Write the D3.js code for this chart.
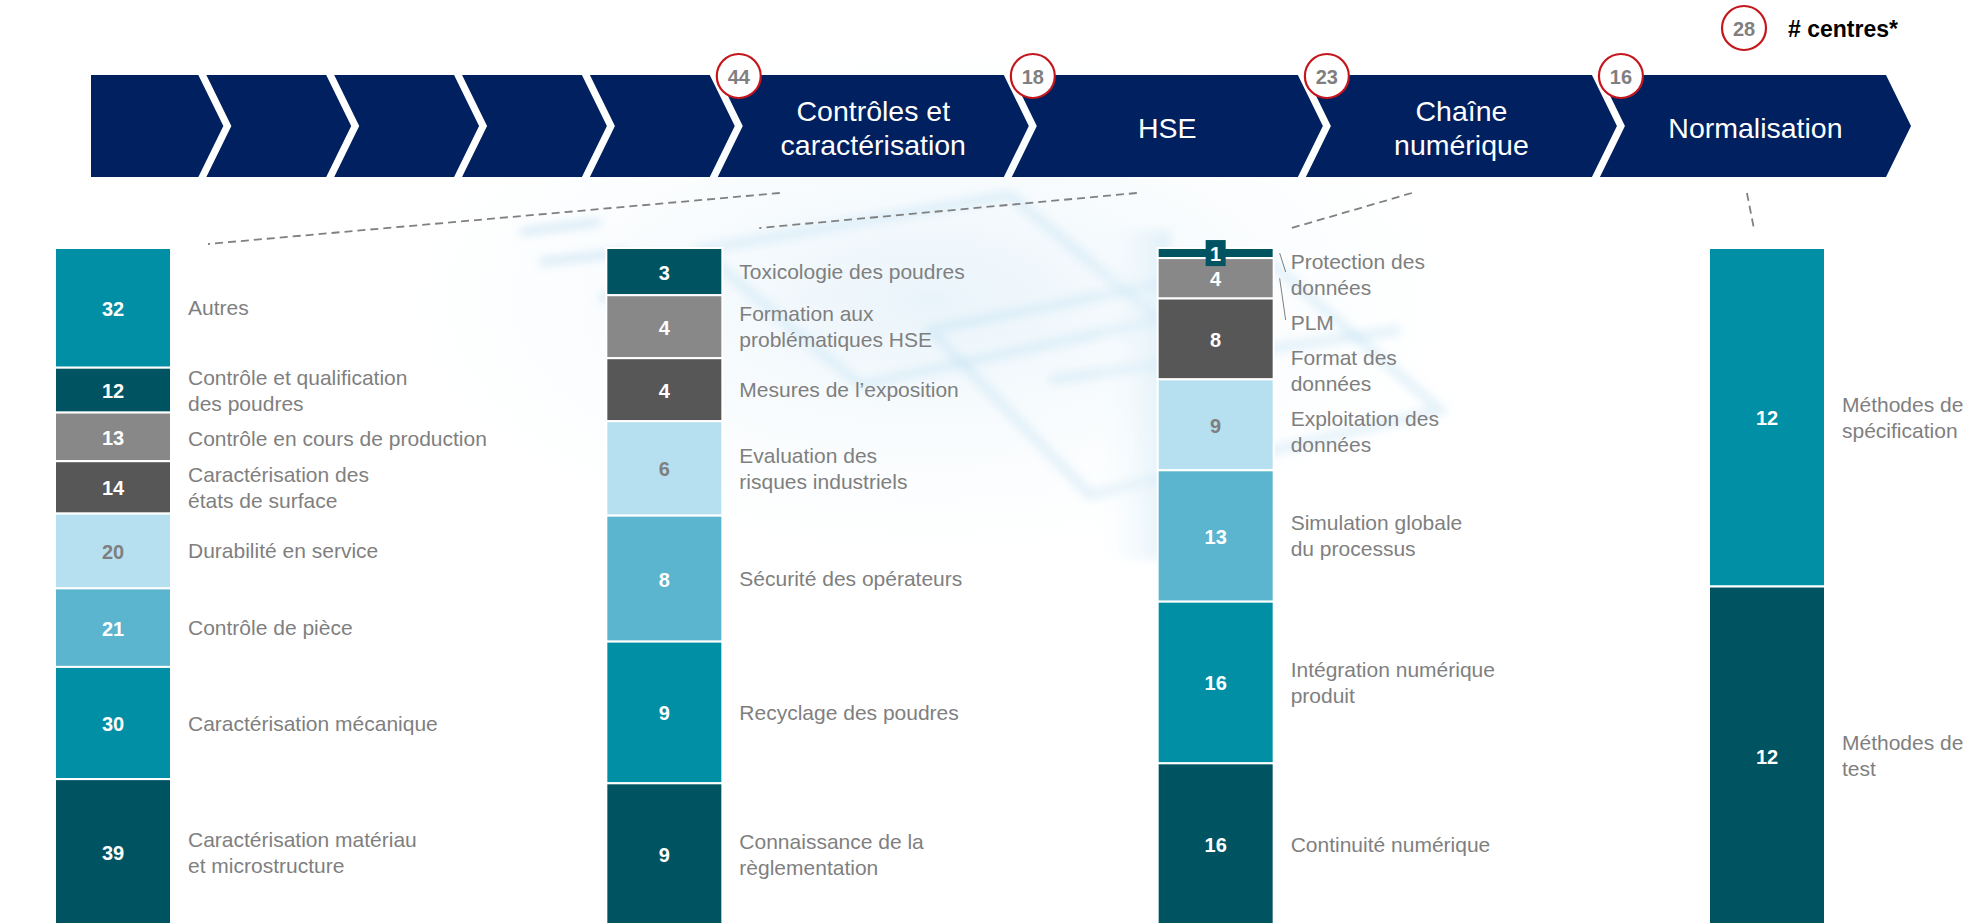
<!DOCTYPE html>
<html><head><meta charset="utf-8">
<script src="https://cdn.jsdelivr.net/npm/d3@7"></script>
<style>html,body{margin:0;padding:0;background:#fff;overflow:hidden}svg{display:block}</style>
</head><body>
<svg id="c" width="1981" height="923"></svg>
<script>
// ---------------- DATA ----------------
const stageNames = ["", "", "", "", "", "Contrôles et\ncaractérisation", "HSE", "Chaîne\nnumérique", "Normalisation"];
const stageCounts = [null, null, null, null, null, 44, 18, 23, 16];
const legendCount = 28;
const legendLabel = "# centres*";

const barCategories = ["Contrôles et caractérisation", "HSE", "Chaîne numérique", "Normalisation"];

const controleLabels = ["Autres", "Contrôle et qualification\ndes poudres", "Contrôle en cours de production",
  "Caractérisation des\nétats de surface", "Durabilité en service", "Contrôle de pièce",
  "Caractérisation mécanique", "Caractérisation matériau\net microstructure"];
const controleValues = [32, 12, 13, 14, 20, 21, 30, 39];

const hseLabels = ["Toxicologie des poudres", "Formation aux\nproblématiques HSE", "Mesures de l’exposition",
  "Evaluation des\nrisques industriels", "Sécurité des opérateurs", "Recyclage des poudres",
  "Connaissance de la\nrèglementation"];
const hseValues = [3, 4, 4, 6, 8, 9, 9];

const chaineLabels = ["Protection des\ndonnées", "PLM", "Format des\ndonnées", "Exploitation des\ndonnées",
  "Simulation globale\ndu processus", "Intégration numérique\nproduit", "Continuité numérique"];
const chaineValues = [1, 4, 8, 9, 13, 16, 16];

const normLabels = ["Méthodes de\nspécification", "Méthodes de\ntest"];
const normValues = [12, 12];

// ---------------- STYLE / LAYOUT ----------------
const W = 1981, H = 923;
const navy = "#002060";
const grayText = "#7f7f7f";
// colours assigned from the bottom of each stack upward
const palette = ["#005461", "#008FA5", "#5BB5CE", "#B6E0EF", "#575757", "#888888", "#005461", "#008FA5"];
const lightFill = "#B6E0EF";
const font = "'Liberation Sans', Arial, Helvetica, sans-serif";

const svg = d3.select("#c");
const defs = svg.append("defs");

// ---------- faint background decoration ----------
const blur = defs.append("filter").attr("id", "blur").attr("x", "-20%").attr("y", "-20%").attr("width", "140%").attr("height", "140%");
blur.append("feGaussianBlur").attr("stdDeviation", 5);
const rg = defs.append("radialGradient").attr("id", "wash").attr("cx", "50%").attr("cy", "50%").attr("r", "50%");
rg.append("stop").attr("offset", "0%").attr("stop-color", "#d6eaf6").attr("stop-opacity", 0.55);
rg.append("stop").attr("offset", "100%").attr("stop-color", "#ffffff").attr("stop-opacity", 0);
svg.append("ellipse").attr("cx", 930).attr("cy", 300).attr("rx", 620).attr("ry", 300).attr("fill", "url(#wash)");
const deco = svg.append("g").attr("filter", "url(#blur)").attr("fill", "none")
  .attr("stroke", "#bfe0f2").attr("stroke-opacity", 0.45).attr("stroke-width", 9);
deco.append("path").attr("d", "M700,250 L1010,195 L1160,320 L860,385 Z");
deco.append("path").attr("d", "M930,330 L1270,262 L1440,410 L1090,495 Z");
deco.append("path").attr("d", "M1050,380 L1400,330");
deco.append("path").attr("d", "M520,232 L600,222 M540,262 L630,252 M600,298 L700,288").attr("stroke-width", 7).attr("stroke", "#9fcfe9");
const lg = defs.append("linearGradient").attr("id", "side").attr("x1", 0).attr("x2", 1).attr("y1", 0).attr("y2", 0);
lg.append("stop").attr("offset", "0%").attr("stop-color", "#ffffff").attr("stop-opacity", 0);
lg.append("stop").attr("offset", "100%").attr("stop-color", "#d3eaf6").attr("stop-opacity", 0.7);
svg.append("rect").attr("x", 1090).attr("y", 230).attr("width", 80).attr("height", 330).attr("fill", "url(#side)").attr("filter", "url(#blur)");

// ---------- banner of chevrons ----------
const bTop = 75, bBot = 177, bMid = (bTop + bBot) / 2, tip = 25, gapX = 8, firstLeft = 91;
const units = stageNames.map(s => s ? 2.3 : 1);
const cum = [0, ...d3.cumsum(units)];
const bx = d3.scaleLinear().domain([0, cum[cum.length - 1]]).range([70.5, 1886]);

const banner = svg.append("g");
stageNames.forEach((name, k) => {
  const xl = k === 0 ? firstLeft : bx(cum[k]) + gapX;
  const xr = bx(cum[k + 1]);
  const pts = [[xl, bTop], [xr, bTop], [xr + tip, bMid], [xr, bBot], [xl, bBot]];
  if (k > 0) pts.push([xl + tip, bMid]);
  banner.append("polygon").attr("points", pts.map(p => p.join(",")).join(" ")).attr("fill", navy);
  if (name) {
    const lines = name.split("\n");
    const cx = (xl + xr) / 2 + tip / 2;
    const lh = 34;
    lines.forEach((t, i) => {
      banner.append("text").attr("x", cx).attr("y", 128 + (i - (lines.length - 1) / 2) * lh)
        .attr("text-anchor", "middle").attr("dominant-baseline", "central")
        .attr("font-family", font).attr("font-size", 28.5).attr("fill", "#fff").text(t);
    });
  }
  if (stageCounts[k] != null) {
    drawBadge(xl + 21, 76, stageCounts[k]);
  }
});

function drawBadge(cx, cy, v) {
  banner.append("circle").attr("cx", cx).attr("cy", cy).attr("r", 22)
    .attr("fill", "#fff").attr("stroke", "#C4161C").attr("stroke-width", 2.2);
  banner.append("text").attr("x", cx).attr("y", cy + 1).attr("text-anchor", "middle").attr("dominant-baseline", "central")
    .attr("font-family", font).attr("font-weight", "bold").attr("font-size", 20).attr("fill", grayText).text(v);
}
// legend
drawBadge(1744, 28, legendCount);
svg.append("text").attr("x", 1788).attr("y", 29).attr("dominant-baseline", "central")
  .attr("font-family", font).attr("font-weight", "bold").attr("font-size", 23).attr("fill", "#000").text(legendLabel);

// ---------- stacked bars ----------
const barTop = 248, barBottom = 925, barW = 116;
const xScale = d3.scalePoint().domain(barCategories).range([55, 1709]);
const bars = [
  { cat: barCategories[0], labels: controleLabels, values: controleValues },
  { cat: barCategories[1], labels: hseLabels, values: hseValues },
  { cat: barCategories[2], labels: chaineLabels, values: chaineValues },
  { cat: barCategories[3], labels: normLabels, values: normValues }
];

// dashed connectors from the banner to each column
const connectorStage = [5, 6, 7, 8];
const connectorStart = [62, 125, 106, 147];
const connectorEnd = [[153, 244], [153, 228], [134, 228], [45, 229]];
bars.forEach((b, i) => {
  const k = connectorStage[i];
  const xl = bx(cum[k]) + gapX;
  svg.append("line")
    .attr("x1", xl + connectorStart[i]).attr("y1", 193)
    .attr("x2", xScale(b.cat) + connectorEnd[i][0]).attr("y2", connectorEnd[i][1])
    .attr("stroke", "#808080").attr("stroke-width", 1.8).attr("stroke-dasharray", "8,5");
});

const lineH = 26, labelGap = 9, fontSize = 21;
bars.forEach(b => {
  const n = b.values.length;
  const total = d3.sum(b.values);
  const y = d3.scaleLinear().domain([0, total]).range([barTop, barBottom]);
  const x0 = xScale(b.cat);
  const starts = [0, ...d3.cumsum(b.values)];
  const g = svg.append("g");
  const segs = b.values.map((v, i) => {
    const y0 = y(starts[i]), y1 = y(starts[i] + v);
    return { v, y0, y1, col: palette[(n - 1 - i) % palette.length], label: b.labels[i] };
  });
  segs.forEach(s => {
    g.append("rect").attr("x", x0).attr("y", s.y0).attr("width", barW).attr("height", s.y1 - s.y0)
      .attr("fill", s.col).attr("stroke", "#fff").attr("stroke-width", 2);
  });
  segs.forEach(s => {
    const cy = (s.y0 + s.y1) / 2;
    const small = (s.y1 - s.y0) < 24;
    if (small) {
      g.append("rect").attr("x", x0 + barW / 2 - 10).attr("y", cy - 13).attr("width", 20).attr("height", 26).attr("fill", s.col);
    }
    g.append("text").attr("x", x0 + barW / 2).attr("y", cy + 1).attr("text-anchor", "middle").attr("dominant-baseline", "central")
      .attr("font-family", font).attr("font-weight", "bold").attr("font-size", 20)
      .attr("fill", s.col === lightFill ? grayText : "#fff").text(s.v);
  });
  // category labels with simple top-down collision avoidance
  let prevBottom = -Infinity;
  const lx = x0 + barW + 17;
  segs.forEach(s => {
    const lines = s.label.split("\n");
    const h = lines.length * lineH;
    const c = (s.y0 + s.y1) / 2;
    const top = Math.max(c - h / 2, prevBottom + labelGap, barTop);
    prevBottom = top + h;
    const lc = top + h / 2;
    lines.forEach((t, k) => {
      g.append("text").attr("x", lx).attr("y", top + lineH * (k + 0.5)).attr("dominant-baseline", "central")
        .attr("font-family", font).attr("font-size", fontSize).attr("fill", grayText).text(t);
    });
    if (lc < s.y0 || lc > s.y1) {
      g.append("line").attr("x1", x0 + barW + 6).attr("y1", c).attr("x2", x0 + barW + 12).attr("y2", lc - 2)
        .attr("stroke", "#7f7f7f").attr("stroke-width", 1);
    }
  });
});
</script>
</body></html>
